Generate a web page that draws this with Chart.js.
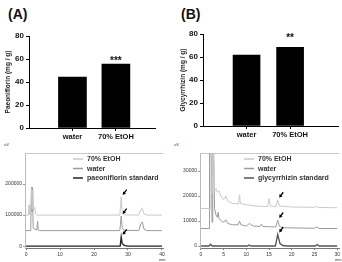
<!DOCTYPE html>
<html>
<head>
<meta charset="utf-8">
<script src="https://cdn.jsdelivr.net/npm/chart.js@4.4.1/dist/chart.umd.min.js"></script>
<style>
body { margin: 0; width: 342px; height: 262px; background: #fff; position: relative; overflow: hidden; font-family: "Liberation Sans", Arial, sans-serif; }
canvas { position: absolute; }
.lbl { position: absolute; white-space: nowrap; color: #111; line-height: 1; }
</style>
</head>
<body>
<div class="lbl" style="left:8px;top:7px;font-weight:bold;font-size:14px">(A)</div>
<div class="lbl" style="left:181px;top:7px;font-weight:bold;font-size:14px">(B)</div>
<div class="lbl" style="left:4px;top:143px;font-size:4px;color:#333">uV</div>
<div class="lbl" style="left:174px;top:143px;font-size:4px;color:#333">uV</div>
<div class="lbl" style="left:159px;top:258px;font-size:4px;color:#333">min</div>
<div class="lbl" style="left:335px;top:258px;font-size:4px;color:#333">min</div>

<canvas id="barA" width="171" height="142" style="left:0;top:0"></canvas>
<canvas id="barB" width="171" height="142" style="left:171px;top:0"></canvas>
<canvas id="hplcA" width="171" height="120" style="left:0;top:142px"></canvas>
<canvas id="hplcB" width="171" height="120" style="left:171px;top:142px"></canvas>

<script>
// bar charts
var categories = ['water', '70% EtOH'];
var paeoniflorin = [44.3, 55.6];
var glycyrrhizin = [61.7, 68.4];
var starsA = ['', '***'];
var starsB = ['', '**'];
var barTicks = [0, 20, 40, 60, 80];

// chromatograms, [min, uV]
var seriesNames = ['70% EtOH', 'water'];
var etohA = [[0, 100000], [0.7, 100000], [0.9, 133000], [1.1, 102000], [1.4, 110000], [1.6, 185000], [1.8, 120000],
    [2.0, 180000], [2.2, 115000], [2.6, 125000], [2.8, 103000], [3.2, 100000], [27.6, 100000], [28.0, 158000],
    [28.3, 108000], [28.8, 101000], [33.2, 100000], [33.8, 118000], [34.2, 122000], [34.7, 104000], [35.5, 100000], [40, 100000]];
var waterA = [[0, 50000], [1.2, 50000], [1.4, 60000], [1.6, 190000], [1.75, 110000], [1.9, 188000], [2.1, 60000],
    [2.4, 55000], [3.2, 52000], [3.4, 80000], [3.6, 52000], [4, 50000], [27.6, 50000], [28.0, 97000], [28.3, 58000],
    [28.9, 51000], [33.2, 50000], [33.8, 73000], [34.2, 78000], [34.7, 55000], [35.5, 50000], [40, 50000]];
var stdA = [[0, 0], [27.7, 0], [28.0, 30000], [28.3, 8000], [29, 2000], [30, 0], [40, 0]];

var etohB = [[0, 15000], [2.1, 15000], [2.2, 40000], [2.4, 40000], [2.5, 21000], [2.7, 40000], [2.85, 40000], [3.0, 22000],
    [3.3, 23000], [3.6, 21500], [4, 22000], [4.4, 20000], [5, 18500], [5.5, 20000], [5.9, 18000], [7, 17000], [8.3, 16800],
    [8.5, 20500], [8.7, 17000], [10, 16500], [12, 16000], [14.7, 15800], [15, 19000], [15.3, 16000], [16.5, 15800],
    [16.9, 18500], [17.3, 16000], [20, 15600], [25, 15500], [25.5, 15800], [26, 15400], [30, 15300]];
var waterB = [[0, 7000], [1.8, 7000], [1.9, 40000], [2.3, 40000], [2.45, 9500], [2.6, 40000], [2.8, 40000], [3.0, 15000],
    [3.3, 12500], [3.6, 11500], [3.8, 13500], [4.0, 11000], [4.5, 10000], [5, 9500], [5.5, 10500], [5.9, 9000], [7, 8500],
    [8.2, 8500], [8.5, 10000], [8.8, 8500], [10, 8000], [10.7, 9000], [11.5, 8000], [13, 7800], [13.3, 8700], [13.6, 7800],
    [16.5, 7600], [16.9, 10400], [17.3, 7800], [18, 7300], [25, 7100], [25.5, 7700], [26, 7000], [30, 7000]];
var stdB = [[0, 0], [1.8, 0], [2.1, 700], [2.5, 0], [10.3, 0], [10.6, 400], [11, 0], [16.4, 0], [16.9, 4600],
    [17.4, 1000], [18, 200], [19, 0], [25.2, 0], [25.6, 600], [26, 0], [30, 0]];

var xTicksA = [0, 10, 20, 30, 40];
var yTicksA = [0, 100000, 200000];
var xTicksB = [0, 5, 10, 15, 20, 25, 30];
var yTicksB = [0, 10000, 20000, 30000];

var FONT = '"Liberation Sans", Arial, sans-serif';

var starPlugin = {
    id: 'stars',
    afterDatasetsDraw: function (chart, args, opts) {
        var ds = chart.data.datasets[0];
        var ctx = chart.ctx;
        ctx.save();
        ctx.font = 'bold 10px ' + FONT;
        ctx.textAlign = 'center';
        ctx.fillStyle = '#111';
        chart.getDatasetMeta(0).data.forEach(function (bar, i) {
            if (ds.stars[i]) ctx.fillText(ds.stars[i], bar.x, bar.y - opts.gap);
        });
        ctx.restore();
    }
};

function barChart(id, values, stars, title, o) {
    return new Chart(document.getElementById(id), {
        type: 'bar',
        data: {
            datasets: [{
                data: values.map(function (v, i) { return { x: i + 1, y: v }; }),
                stars: stars,
                backgroundColor: '#000',
                barThickness: o.bw
            }]
        },
        options: {
            responsive: false,
            animation: false,
            layout: { padding: { top: o.top, right: o.right, left: 0, bottom: 0 } },
            plugins: { legend: { display: false }, tooltip: { enabled: false }, stars: { gap: o.gap } },
            scales: {
                x: {
                    type: 'linear', min: 0, max: o.xmax, offset: false,
                    afterBuildTicks: function (s) { s.ticks = categories.map(function (c, i) { return { value: i + 1 }; }); },
                    afterFit: function (s) { s.height = o.xh; },
                    ticks: { callback: function (v) { return categories[v - 1]; }, font: { family: FONT, size: 7.5, weight: 'bold' }, color: '#111', padding: 1, maxRotation: 0, autoSkip: false },
                    grid: { drawOnChartArea: false, offset: false, tickLength: 3, color: '#000' },
                    border: { color: '#000' }
                },
                y: {
                    min: 0, max: 80,
                    afterBuildTicks: function (s) { s.ticks = barTicks.map(function (v) { return { value: v }; }); },
                    afterFit: function (s) { s.width = o.yw; },
                    ticks: { font: { family: FONT, size: 8, weight: 'bold' }, color: '#111', padding: 2 },
                    grid: { drawOnChartArea: false, tickLength: 3, color: '#000' },
                    border: { color: '#000' },
                    title: { display: true, text: title, font: { family: FONT, size: 6.5, weight: 'bold' }, color: '#222', padding: { top: o.tp, bottom: 0 } }
                }
            }
        },
        plugins: [starPlugin]
    });
}

barChart('barA', paeoniflorin, starsA, 'Paeoniflorin (mg / g)', { top: 36, right: 16, xmax: 2.9, xh: 14, yw: 29, tp: 4, gap: 0, bw: 28 });
barChart('barB', glycyrrhizin, starsB, 'Glycyrrhizin (mg / g)', { top: 34, right: 4, xmax: 3.1, xh: 16, yw: 32, tp: 8, gap: 6, bw: 27 });

// chromatogram helpers
var framePlugin = {
    id: 'frame',
    beforeDatasetsDraw: function (chart) {
        var a = chart.chartArea, ctx = chart.ctx;
        ctx.save();
        ctx.strokeStyle = '#c8c8c8';
        ctx.lineWidth = 1;
        ctx.beginPath();
        ctx.moveTo(a.left, a.top + 0.5);
        ctx.lineTo(a.right, a.top + 0.5);
        ctx.stroke();
        ctx.restore();
    }
};

var chromLegend = {
    id: 'chromLegend',
    afterDraw: function (chart, args, opts) {
        var a = chart.chartArea, ctx = chart.ctx;
        ctx.save();
        ctx.font = 'bold 7px ' + FONT;
        ctx.textBaseline = 'middle';
        chart.data.datasets.forEach(function (ds, i) {
            var y = a.top + opts.rows[i];
            var x = a.left + opts.dx;
            ctx.strokeStyle = ds.borderColor;
            ctx.lineWidth = 1.5;
            ctx.beginPath();
            ctx.moveTo(x, y);
            ctx.lineTo(x + 10, y);
            ctx.stroke();
            ctx.fillStyle = '#333';
            ctx.fillText(ds.label, x + 14, y + 0.5);
        });
        ctx.restore();
    }
};

var peakArrows = {
    id: 'peakArrows',
    afterDatasetsDraw: function (chart, args, opts) {
        var xs = chart.scales.x, ys = chart.scales.y, ctx = chart.ctx;
        ctx.save();
        ctx.strokeStyle = '#000';
        ctx.fillStyle = '#000';
        ctx.lineWidth = 1.3;
        chart.data.datasets.forEach(function (ds) {
            var near = ds.data.filter(function (p) { return Math.abs(p.x - opts.time) < 1; });
            var top = near.reduce(function (a, b) { return b.y > a.y ? b : a; });
            var px = xs.getPixelForValue(top.x), py = ys.getPixelForValue(top.y);
            var hx = px + 1.5, hy = py - 2, tx = px + 5.5, ty = py - 7.5;
            var dx = hx - tx, dy = hy - ty, len = Math.sqrt(dx * dx + dy * dy);
            dx /= len; dy /= len;
            ctx.beginPath();
            ctx.moveTo(tx, ty);
            ctx.lineTo(hx - dx * 2, hy - dy * 2);
            ctx.stroke();
            ctx.beginPath();
            ctx.moveTo(hx, hy);
            ctx.lineTo(hx - dx * 3.2 - dy * 1.8, hy - dy * 3.2 + dx * 1.8);
            ctx.lineTo(hx - dx * 3.2 + dy * 1.8, hy - dy * 3.2 - dx * 1.8);
            ctx.closePath();
            ctx.fill();
        });
        ctx.restore();
    }
};

function toXY(pts) { return pts.map(function (p) { return { x: p[0], y: p[1] }; }); }

function chromChart(id, lines, o) {
    var colors = ['#c9c9c9', '#9c9c9c', o.stdColor];
    return new Chart(document.getElementById(id), {
        type: 'line',
        data: {
            datasets: lines.map(function (l, i) {
                return { label: l.label, data: toXY(l.pts), borderColor: colors[i], borderWidth: i == 2 ? 1.3 : 1, pointRadius: 0, tension: 0 };
            })
        },
        options: {
            responsive: false,
            animation: false,
            layout: { padding: { top: 11, right: o.right, left: 0, bottom: 0 } },
            plugins: {
                legend: { display: false }, tooltip: { enabled: false },
                chromLegend: { dx: o.legX, rows: [6, 15.5, 25] },
                peakArrows: { time: o.arrowT }
            },
            scales: {
                x: {
                    type: 'linear', min: o.xmin, max: o.xmax,
                    afterBuildTicks: function (s) { s.ticks = o.xTicks.map(function (v) { return { value: v }; }); },
                    afterFit: function (s) { s.height = 14; },
                    ticks: { font: { family: FONT, size: 5 }, color: '#333', padding: 2, maxRotation: 0, autoSkip: false },
                    grid: { drawOnChartArea: false, tickLength: 2, color: '#777' },
                    border: { color: '#777' }
                },
                y: {
                    min: o.ymin, max: o.ymax,
                    afterBuildTicks: function (s) { s.ticks = o.yTicks.map(function (v) { return { value: v }; }); },
                    afterFit: function (s) { s.width = o.yw; },
                    ticks: { callback: function (v) { return String(v); }, font: { family: FONT, size: 5 }, color: '#333', padding: 1 },
                    grid: { drawOnChartArea: false, tickLength: 2, color: '#999' },
                    border: { color: '#bbb' }
                }
            }
        },
        plugins: [framePlugin, chromLegend, peakArrows]
    });
}

chromChart('hplcA', [
    { label: seriesNames[0], pts: etohA },
    { label: seriesNames[1], pts: waterA },
    { label: 'paeoniflorin standard', pts: stdA }
], { right: 8, xmin: -0.3, xmax: 40.3, ymin: -6000, ymax: 300000, yw: 25, legX: 48, arrowT: 28, xTicks: xTicksA, yTicks: yTicksA, stdColor: '#222' });

chromChart('hplcB', [
    { label: seriesNames[0], pts: etohB },
    { label: seriesNames[1], pts: waterB },
    { label: 'glycyrrhizin standard', pts: stdB }
], { right: 1, xmin: -0.2, xmax: 30.4, ymin: -800, ymax: 37200, yw: 29, legX: 44, arrowT: 17, xTicks: xTicksB, yTicks: yTicksB, stdColor: '#555' });
</script>
</body>
</html>
